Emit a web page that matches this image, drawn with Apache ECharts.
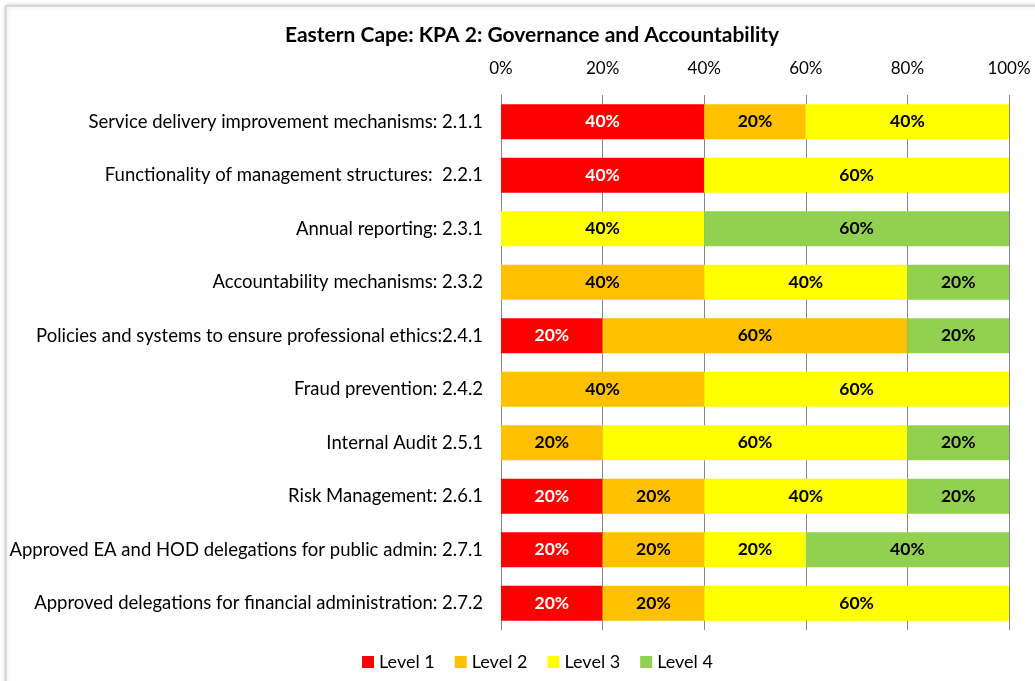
<!DOCTYPE html>
<html>
<head>
<meta charset="utf-8">
<script src="https://cdn.jsdelivr.net/npm/echarts@6/dist/echarts.min.js"></script>
<style>
  html, body { margin: 0; padding: 0; background: #fff; }
  #chart { width: 1035px; height: 681px; }
</style>
</head>
<body>
<div id="chart"></div>
<script>
const categories = [
  'Service delivery improvement mechanisms: 2.1.1',
  'Functionality of management structures:  2.2.1',
  'Annual reporting: 2.3.1',
  'Accountability mechanisms: 2.3.2',
  'Policies and systems to ensure professional ethics:2.4.1',
  'Fraud prevention: 2.4.2',
  'Internal Audit 2.5.1',
  'Risk Management: 2.6.1',
  'Approved EA and HOD delegations for public admin: 2.7.1',
  'Approved delegations for financial administration: 2.7.2'
]
const level1 = [40, 40, 0, 0, 20, 0, 0, 20, 20, 20]
const level2 = [20, 0, 0, 40, 60, 40, 20, 20, 20, 20]
const level3 = [40, 60, 40, 40, 0, 60, 60, 40, 20, 60]
const level4 = [0, 0, 60, 20, 20, 0, 20, 20, 40, 0]

const seriesNames = ['Level 1', 'Level 2', 'Level 3', 'Level 4']
const seriesColors = ['#FF0000', '#FFC000', '#FFFF00', '#92D050']
const labelColors = ['#ffffff', '#000000', '#000000', '#000000']
const seriesData = [level1, level2, level3, level4]

const font = 'Lato, "Open Sans", sans-serif'

const chart = echarts.init(document.getElementById('chart'))

const option = {
  animation: false,
  textStyle: { fontFamily: font },
  graphic: [{
    type: 'rect',
    silent: true,
    z: -10,
    shape: { x: 6, y: 6, width: 1100, height: 720 },
    style: { fill: '#fff', stroke: '#c8c8c8', lineWidth: 1, shadowBlur: 4, shadowColor: 'rgba(0,0,0,0.25)' }
  }],
  title: {
    text: 'Eastern Cape: KPA 2: Governance and Accountability',
    left: 527,
    textAlign: 'center',
    top: 20,
    textStyle: { fontFamily: font, fontSize: 21, fontWeight: 'bold', color: '#000' }
  },
  legend: {
    bottom: 5,
    left: 357,
    itemWidth: 12,
    itemHeight: 12,
    itemGap: 20,
    icon: 'rect',
    textStyle: { fontFamily: font, fontSize: 18, color: '#000' },
    data: seriesNames
  },
  grid: { left: 501, right: 26, top: 95, bottom: 51 },
  xAxis: {
    type: 'value',
    position: 'top',
    min: 0,
    max: 100,
    interval: 20,
    axisLine: { show: false },
    axisTick: { show: false },
    axisLabel: { formatter: '{value}%', fontFamily: font, fontSize: 17, color: '#000', margin: 18 },
    splitLine: { lineStyle: { color: '#888', width: 1 } }
  },
  yAxis: {
    type: 'category',
    inverse: true,
    data: categories,
    axisLine: { lineStyle: { color: '#888' } },
    axisTick: { show: false },
    axisLabel: { fontFamily: font, fontSize: 18.5, color: '#000', margin: 18 }
  },
  series: seriesNames.map((name, i) => ({
    name,
    type: 'bar',
    stack: 'total',
    barWidth: '65%',
    data: seriesData[i],
    itemStyle: { color: seriesColors[i] },
    label: {
      show: true,
      position: 'inside',
      color: labelColors[i],
      fontFamily: font,
      fontSize: 17.5,
      fontWeight: 'bold',
      formatter: p => (p.value ? p.value + '%' : '')
    }
  }))
}

chart.setOption(option)
</script>
</body>
</html>
